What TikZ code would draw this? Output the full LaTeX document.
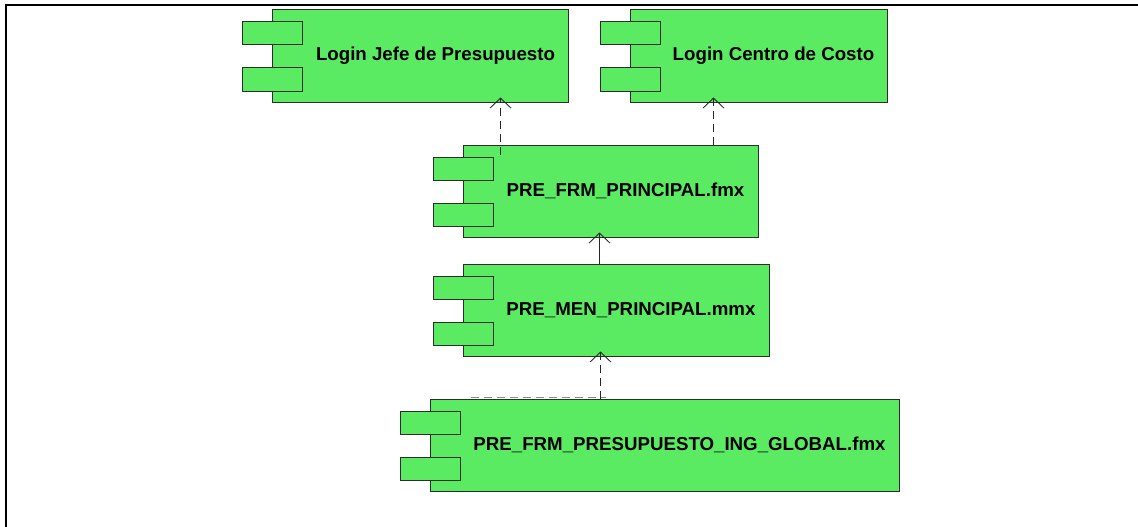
\documentclass[tikz,border=0pt]{standalone}
\usepackage{fontspec}
\setmainfont{Liberation Sans}
\usetikzlibrary{arrows.meta,positioning,calc}

\definecolor{compgreen}{RGB}{91,235,99}
\definecolor{compline}{RGB}{45,45,45}

\begin{document}
\begin{tikzpicture}[
      x=1pt, y=-1pt,
      every node/.style={align=center, line width=0.15mm},
      component/.style={draw=compline, fill=compgreen, line width=1pt, minimum height=92pt, inner sep=0pt, font=\fontsize{18.7}{22}\selectfont\bfseries, execute at begin node={\hspace*{30pt}}},  % main box of a component
      comptab/.style={draw=compline, fill=compgreen, line width=1pt, minimum width=60pt, minimum height=23pt, inner sep=0pt, anchor=north west},  % the two small tabs
      dependency/.style={draw=black!85, line width=0.3mm, dash pattern=on 8pt off 5pt, shorten >=-5pt, -{Straight Barb[length=10pt,width=21pt]}}
   ]
   \useasboundingbox (0,0) rectangle (1138,527);

   % frame
   \draw[line width=2pt] (1138,5) -- (6,5) -- (6,527);

   % components
   \node[component, minimum width=296pt] (ljp) at (420.5,56) {Login Jefe de Presupuesto};
   \node[component, minimum width=257pt] (lcc) at (758.5,56) {Login Centro de Costo};
   \node[component, minimum width=295pt] (frm) at (610.5,191) {PRE\_FRM\_PRINCIPAL.fmx};
   \node[component, minimum width=306pt] (men) at (616,310) {PRE\_MEN\_PRINCIPAL.mmx};
   \node[component, minimum width=469pt] (glb) at (664.5,445) {PRE\_FRM\_PRESUPUESTO\_ING\_GLOBAL.fmx};

   % tabs
   \foreach \n in {ljp,lcc,frm,men,glb} {
      \node[comptab] (\n-top) at ($(\n.north west)+(-30,12)$) {};
      \node[comptab] (\n-bot) at ($(\n.north west)+(-30,58)$) {};
   }

   % dependencies
   \draw[dependency] ($(frm.north west)+(38,10)$) coordinate (d1) -- (d1 |- ljp.south);
   \draw[dependency] ($(frm.north west)+(251,0)$) coordinate (d2) -- (d2 |- lcc.south);
   \draw[dependency, solid] ($(men.north west)+(137,0)$) coordinate (d3) -- (d3 |- frm.south);
   \draw[dependency, -, draw=black!45] ($(glb.north west)+(41,-1)$) coordinate (d5) -- ($(glb.north west)+(171,-1)$);
   \draw[dependency] ($(glb.north west)+(171,0)$) coordinate (d4) -- (d4 |- men.south);
\end{tikzpicture}
\end{document}
